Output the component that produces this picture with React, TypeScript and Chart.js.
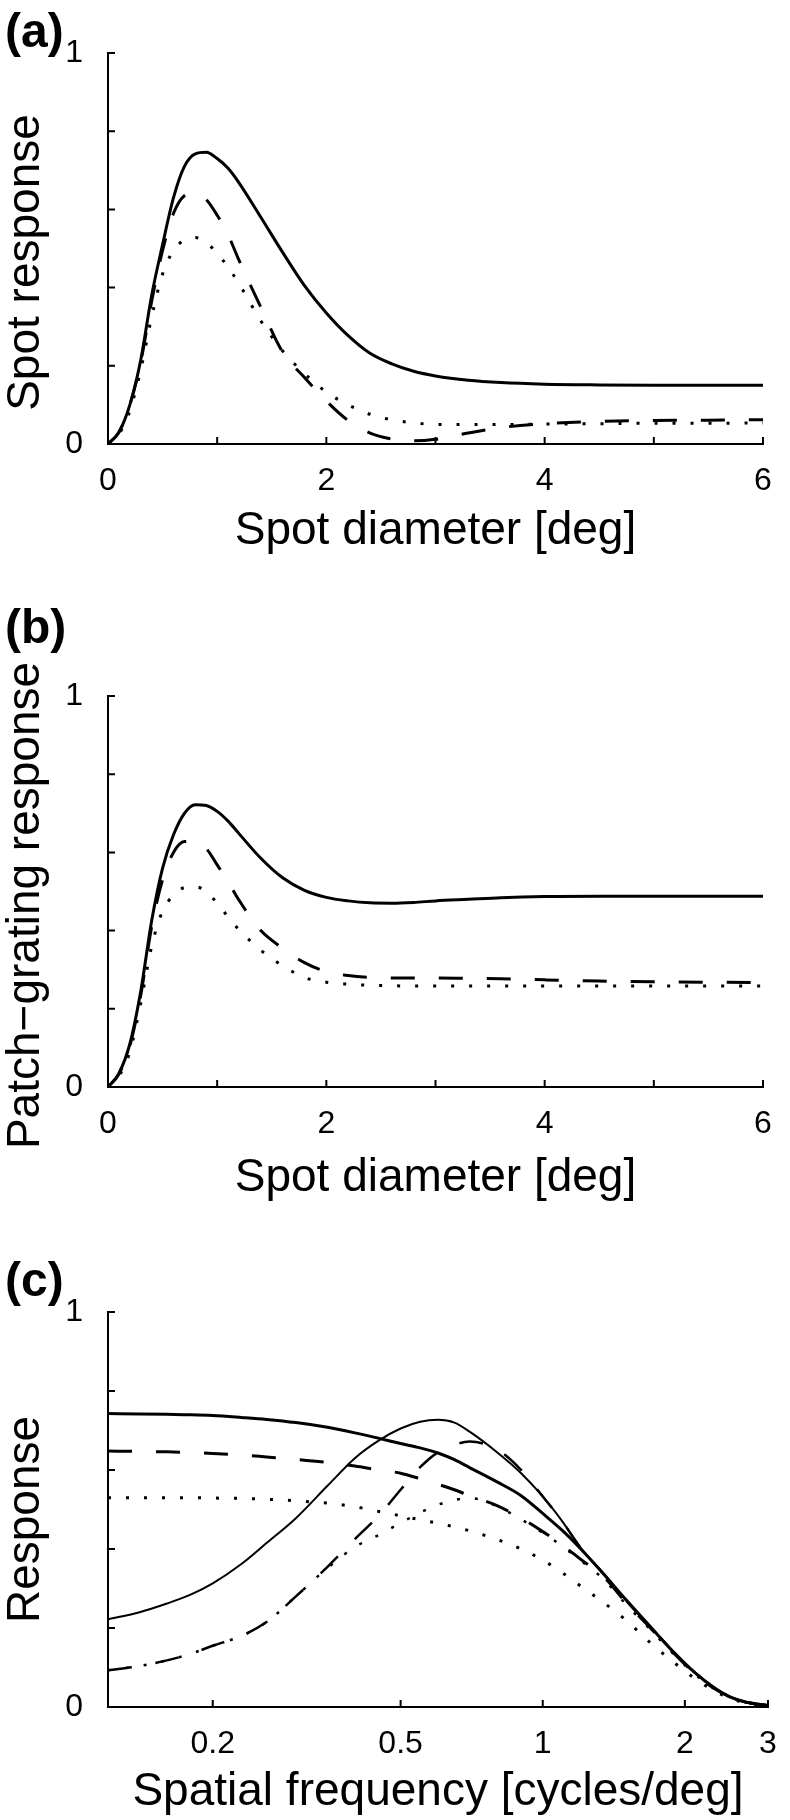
import React, { useEffect, useRef } from "react";
import { Chart, registerables } from "chart.js";

Chart.register(...registerables);

const FONT = "'Liberation Sans', Arial, Helvetica, sans-serif";

// ---------- Panels (a) and (b): spot diameter [deg] ----------
const diam = [0, 0.1, 0.2, 0.3, 0.4, 0.5, 0.6, 0.7, 0.8, 0.9, 1.0, 1.1, 1.2, 1.4, 1.6, 1.8, 2.0, 2.2, 2.4, 2.6, 2.8, 3.0, 3.3, 3.6, 4.0, 4.5, 5.0, 5.5, 6.0];

const spotSolid = [0, 0.03, 0.1, 0.215, 0.38, 0.51, 0.63, 0.71, 0.742, 0.746, 0.73, 0.705, 0.668, 0.58, 0.49, 0.405, 0.335, 0.277, 0.232, 0.205, 0.186, 0.174, 0.163, 0.157, 0.153, 0.151, 0.15, 0.15, 0.15];
const spotDashed = [0, 0.03, 0.1, 0.21, 0.365, 0.495, 0.59, 0.635, 0.642, 0.625, 0.585, 0.535, 0.47, 0.35, 0.235, 0.17, 0.11, 0.06, 0.028, 0.013, 0.008, 0.012, 0.028, 0.042, 0.052, 0.058, 0.06, 0.061, 0.062];
const spotDotted = [0, 0.025, 0.085, 0.19, 0.325, 0.435, 0.495, 0.522, 0.528, 0.515, 0.488, 0.452, 0.41, 0.315, 0.238, 0.18, 0.133, 0.1, 0.076, 0.062, 0.054, 0.05, 0.05, 0.05, 0.051, 0.052, 0.053, 0.053, 0.054];

const patchSolid = [0, 0.035, 0.11, 0.245, 0.425, 0.56, 0.645, 0.7, 0.722, 0.72, 0.705, 0.68, 0.648, 0.585, 0.535, 0.503, 0.485, 0.476, 0.471, 0.47, 0.472, 0.476, 0.48, 0.484, 0.487, 0.488, 0.488, 0.488, 0.488];
const patchDashed = [0, 0.033, 0.105, 0.235, 0.41, 0.53, 0.6, 0.628, 0.628, 0.61, 0.568, 0.525, 0.478, 0.4, 0.355, 0.318, 0.295, 0.285, 0.28, 0.279, 0.279, 0.279, 0.278, 0.277, 0.274, 0.271, 0.269, 0.268, 0.267];
const patchDotted = [0, 0.028, 0.09, 0.215, 0.36, 0.45, 0.49, 0.51, 0.512, 0.5, 0.47, 0.435, 0.402, 0.35, 0.31, 0.28, 0.268, 0.263, 0.26, 0.259, 0.258, 0.258, 0.258, 0.258, 0.258, 0.258, 0.258, 0.258, 0.258];

// ---------- Panel (c): spatial frequency [cycles/deg] ----------
const freq = [0.12, 0.14, 0.16, 0.18, 0.2, 0.23, 0.26, 0.3, 0.35, 0.4, 0.45, 0.5, 0.55, 0.6, 0.65, 0.7, 0.8, 0.9, 1.0, 1.1, 1.2, 1.35, 1.5, 1.7, 1.9, 2.1, 2.3, 2.5, 2.7, 3.0];

const sfSolidLow = [0.743, 0.742, 0.741, 0.74, 0.738, 0.733, 0.728, 0.72, 0.708, 0.694, 0.68, 0.667, 0.656, 0.643, 0.626, 0.606, 0.57, 0.535, 0.49, 0.447, 0.402, 0.335, 0.272, 0.2, 0.137, 0.087, 0.05, 0.025, 0.012, 0.004];
const sfDashedLow = [0.648, 0.647, 0.646, 0.644, 0.642, 0.638, 0.633, 0.627, 0.619, 0.61, 0.6, 0.592, 0.578, 0.564, 0.55, 0.535, 0.51, 0.478, 0.444, 0.41, 0.375, 0.328, 0.265, 0.197, 0.135, 0.085, 0.048, 0.025, 0.012, 0.004];
const sfDottedLow = [0.53, 0.53, 0.53, 0.53, 0.529, 0.528, 0.526, 0.522, 0.516, 0.507, 0.495, 0.484, 0.474, 0.465, 0.456, 0.446, 0.424, 0.4, 0.372, 0.34, 0.307, 0.263, 0.22, 0.16, 0.112, 0.072, 0.042, 0.022, 0.01, 0.003];
const sfSolidBand = [0.222, 0.24, 0.262, 0.285, 0.313, 0.362, 0.415, 0.478, 0.56, 0.63, 0.675, 0.705, 0.722, 0.727, 0.72, 0.697, 0.645, 0.592, 0.533, 0.47, 0.405, 0.335, 0.27, 0.2, 0.137, 0.087, 0.05, 0.025, 0.012, 0.004];
const sfDashedBand = [0.093, 0.104, 0.118, 0.135, 0.155, 0.18, 0.215, 0.28, 0.355, 0.425, 0.485, 0.55, 0.607, 0.645, 0.664, 0.672, 0.652, 0.6, 0.533, 0.47, 0.405, 0.335, 0.27, 0.2, 0.137, 0.087, 0.05, 0.025, 0.012, 0.004];
const sfDottedBand = [0.093, 0.104, 0.118, 0.135, 0.155, 0.18, 0.215, 0.28, 0.352, 0.405, 0.436, 0.466, 0.492, 0.512, 0.524, 0.529, 0.508, 0.475, 0.441, 0.407, 0.372, 0.322, 0.26, 0.193, 0.132, 0.083, 0.047, 0.024, 0.011, 0.003];

// ---------- ticks ----------
const yTickMarks = [0.2, 0.4, 0.6, 0.8, 1];
const yTickLabels = [0, 1];
const diamTickMarks = [1, 2, 3, 4, 5, 6];
const diamTickLabels = [0, 2, 4, 6];
const freqTickMarks = [0.2, 0.5, 1, 2, 3];
const freqTickLabels = [0.2, 0.5, 1, 2, 3];

const pts = (xs: number[], ys: number[]) => xs.map((x, i) => ({ x, y: ys[i] }));

const DASH = [24, 24];
const DOT = [3, 15];
const TITLE_SIZE = 46;
const TICK_SIZE = 32;

const line = (xs: number[], ys: number[], dash: number[], width = 3) => ({
  data: pts(xs, ys),
  borderColor: "#000",
  borderWidth: width,
  borderDash: dash,
  borderCapStyle: "butt",
  pointRadius: 0,
  fill: false,
  cubicInterpolationMode: "monotone",
});

const decorations = {
  id: "decorations",
  afterDraw(chart: any, _args: any, opts: any) {
    const { ctx, chartArea, scales } = chart;
    ctx.save();
    // inward tick marks
    ctx.strokeStyle = "#000";
    ctx.lineWidth = 2;
    ctx.beginPath();
    for (const v of opts.x) {
      const px = scales.x.getPixelForValue(v);
      ctx.moveTo(px, chartArea.bottom);
      ctx.lineTo(px, chartArea.bottom - opts.len);
    }
    for (const v of opts.y) {
      const py = scales.y.getPixelForValue(v);
      ctx.moveTo(chartArea.left, py);
      ctx.lineTo(chartArea.left + opts.len, py);
    }
    ctx.stroke();
    ctx.fillStyle = "#000";
    // y axis title (rotated)
    ctx.save();
    ctx.font = `${TITLE_SIZE}px ${FONT}`;
    ctx.textAlign = "center";
    ctx.textBaseline = "middle";
    ctx.translate(opts.yTitleX, (chartArea.top + chartArea.bottom) / 2 + opts.yTitleShift);
    ctx.rotate(-Math.PI / 2);
    ctx.fillText(opts.yTitle, 0, 0);
    ctx.restore();
    // panel letter
    ctx.font = `bold 48px ${FONT}`;
    ctx.textBaseline = "middle";
    ctx.textAlign = "left";
    ctx.fillText(opts.label, opts.labelX, opts.labelY);
    ctx.restore();
  },
};

type PanelSpec = {
  height: number;
  padTop: number;
  padRight: number;
  xHeight: number;
  xTitlePad: number;
  xType: string;
  xMin: number;
  xMax: number;
  xLabels: number[];
  xMarks: number[];
  xTitle: string;
  yTitle: string;
  yTitleShift: number;
  datasets: any[];
  label: string;
  labelY: number;
};

function makeConfig(p: PanelSpec): any {
  return {
    type: "line",
    data: { datasets: p.datasets },
    plugins: [decorations],
    options: {
      responsive: false,
      animation: false,
      devicePixelRatio: 1,
      events: [],
      layout: { padding: { top: p.padTop, right: p.padRight, left: 0, bottom: 0 } },
      plugins: {
        legend: { display: false },
        tooltip: { enabled: false },
        decorations: {
          x: p.xMarks,
          y: yTickMarks,
          len: 7,
          label: p.label,
          labelX: 5,
          labelY: p.labelY,
          yTitle: p.yTitle,
          yTitleX: 26,
          yTitleShift: p.yTitleShift,
        },
      },
      scales: {
        x: {
          type: p.xType,
          min: p.xMin,
          max: p.xMax,
          grid: { display: false },
          border: { display: true, color: "#000", width: 2 },
          afterBuildTicks: (s: any) => {
            s.ticks = p.xLabels.map((v) => ({ value: v }));
          },
          afterFit: (s: any) => {
            s.height = p.xHeight;
          },
          ticks: {
            autoSkip: false,
            maxRotation: 0,
            padding: 10,
            color: "#000",
            font: { family: FONT, size: TICK_SIZE },
            callback: (v: any) => String(v),
          },
          title: {
            display: true,
            text: p.xTitle,
            color: "#000",
            font: { family: FONT, size: TITLE_SIZE },
            padding: { top: 0, bottom: p.xTitlePad },
          },
        },
        y: {
          type: "linear",
          min: 0,
          max: 1,
          grid: { display: false },
          border: { display: true, color: "#000", width: 2 },
          afterBuildTicks: (s: any) => {
            s.ticks = yTickLabels.map((v) => ({ value: v }));
          },
          afterFit: (s: any) => {
            s.width = 108;
          },
          ticks: {
            autoSkip: false,
            padding: 17,
            color: "#000",
            font: { family: FONT, size: TICK_SIZE },
            callback: (v: any) => String(v),
          },
          title: { display: false },
        },
      },
    },
  };
}

const panelA: PanelSpec = {
  height: 600,
  padTop: 53,
  padRight: 27,
  xHeight: 156,
  xTitlePad: 41,
  xType: "linear",
  xMin: 0,
  xMax: 6,
  xLabels: diamTickLabels,
  xMarks: diamTickMarks,
  xTitle: "Spot diameter [deg]",
  yTitle: "Spot response",
  yTitleShift: 14,
  datasets: [
    line(diam, spotSolid, []),
    line(diam, spotDashed, DASH),
    line(diam, spotDotted, DOT),
  ],
  label: "(a)",
  labelY: 34,
};

const panelB: PanelSpec = {
  height: 620,
  padTop: 96,
  padRight: 27,
  xHeight: 133,
  xTitlePad: 14,
  xType: "linear",
  xMin: 0,
  xMax: 6,
  xLabels: diamTickLabels,
  xMarks: diamTickMarks,
  xTitle: "Spot diameter [deg]",
  yTitle: "Patch\u2212grating response",
  yTitleShift: 14,
  datasets: [
    line(diam, patchSolid, []),
    line(diam, patchDashed, DASH),
    line(diam, patchDotted, DOT),
  ],
  label: "(b)",
  labelY: 30,
};

const panelC: PanelSpec = {
  height: 600,
  padTop: 92,
  padRight: 22,
  xHeight: 113,
  xTitlePad: 0,
  xType: "logarithmic",
  xMin: 0.12,
  xMax: 3,
  xLabels: freqTickLabels,
  xMarks: freqTickMarks,
  xTitle: "Spatial frequency [cycles/deg]",
  yTitle: "Response",
  yTitleShift: 10,
  datasets: [
    line(freq, sfSolidLow, [], 3),
    line(freq, sfDashedLow, DASH, 3),
    line(freq, sfDottedLow, DOT, 3),
    line(freq, sfSolidBand, [], 2),
    line(freq, sfDashedBand, DASH, 2.5),
    line(freq, sfDottedBand, DOT, 2.5),
  ],
  label: "(c)",
  labelY: 63,
};

const PANELS = [
  { spec: panelA, top: 0 },
  { spec: panelB, top: 600 },
  { spec: panelC, top: 1220 },
];

export default function App() {
  const refs = [useRef<HTMLCanvasElement>(null), useRef<HTMLCanvasElement>(null), useRef<HTMLCanvasElement>(null)];

  useEffect(() => {
    const charts = PANELS.map((p, i) => new Chart(refs[i].current as HTMLCanvasElement, makeConfig(p.spec)));
    return () => charts.forEach((c) => c.destroy());
  }, []);

  return (
    <div style={{ position: "absolute", left: 0, top: 0, width: 790, height: 1820, background: "#fff" }}>
      {PANELS.map((p, i) => (
        <canvas
          key={i}
          ref={refs[i]}
          width={790}
          height={p.spec.height}
          style={{ position: "absolute", left: 0, top: p.top, width: 790, height: p.spec.height }}
        />
      ))}
    </div>
  );
}
